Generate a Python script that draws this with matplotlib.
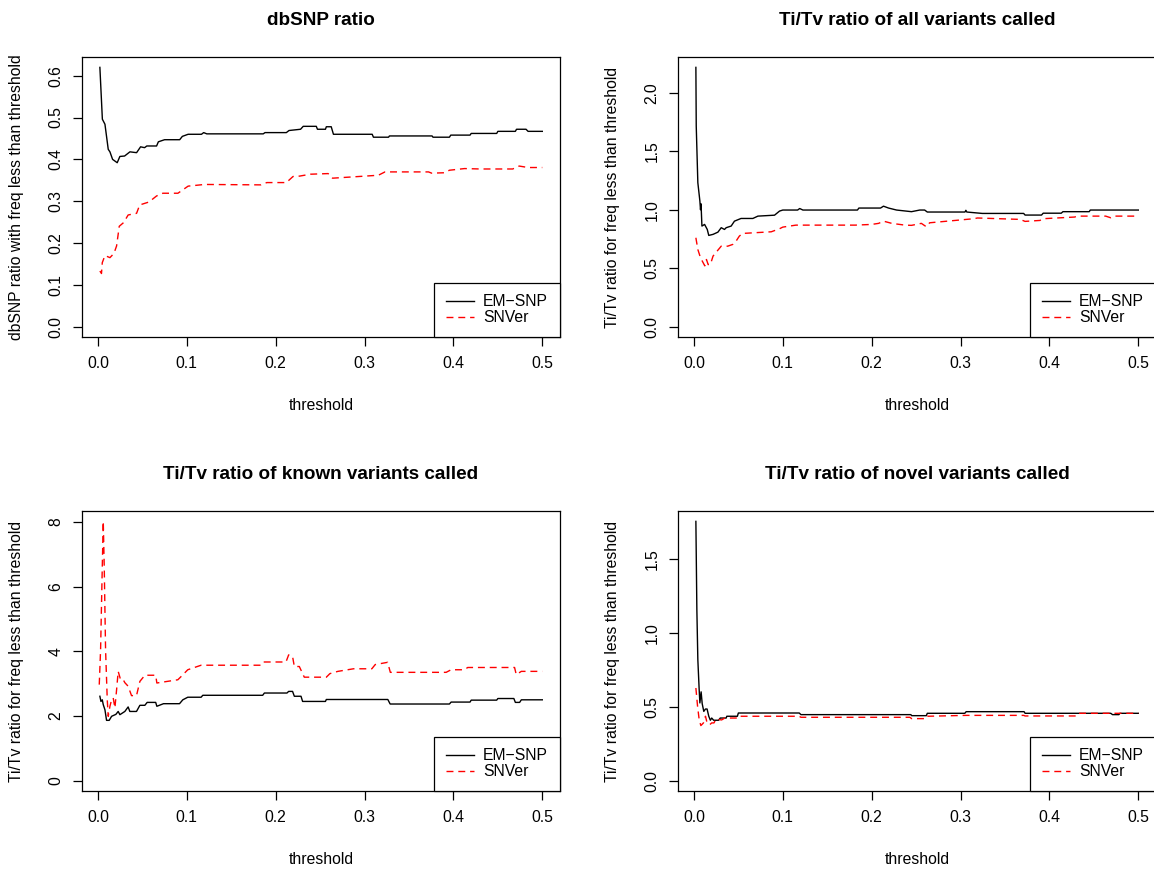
import matplotlib
matplotlib.use("Agg")
import matplotlib.pyplot as plt
import numpy as np

# --- data (threshold vs ratio) ---
dbsnp_em_x = [0.0022, 0.005, 0.0079, 0.0116, 0.0135, 0.0165, 0.0217, 0.0247, 0.030, 0.036,
              0.0435, 0.048, 0.0525, 0.055, 0.066, 0.068, 0.075, 0.092, 0.095, 0.1015,
              0.1165, 0.119, 0.1225, 0.186, 0.188, 0.212, 0.215, 0.228, 0.231, 0.2457,
              0.247, 0.256, 0.257, 0.2625, 0.265, 0.3086, 0.310, 0.327, 0.328, 0.376,
              0.377, 0.3955, 0.397, 0.4187, 0.420, 0.4487, 0.450, 0.4697, 0.471, 0.4817,
              0.484, 0.500]
dbsnp_em_y = [0.62, 0.496, 0.484, 0.424, 0.418, 0.40, 0.392, 0.407, 0.408, 0.418,
              0.416, 0.43, 0.428, 0.432, 0.432, 0.442, 0.447, 0.447, 0.455, 0.46,
              0.46, 0.464, 0.461, 0.461, 0.464, 0.464, 0.469, 0.472, 0.479, 0.479,
              0.472, 0.472, 0.478, 0.478, 0.46, 0.46, 0.453, 0.453, 0.456, 0.456,
              0.453, 0.453, 0.458, 0.458, 0.462, 0.462, 0.467, 0.467, 0.472, 0.472,
              0.467, 0.467]
dbsnp_sn_x = [0.0022, 0.004, 0.0049, 0.0079, 0.0135, 0.018, 0.021, 0.024, 0.029, 0.034,
              0.0435, 0.047, 0.0574, 0.066, 0.073, 0.090, 0.1015, 0.12, 0.1835, 0.19,
              0.212, 0.2195, 0.227, 0.239, 0.259, 0.264, 0.3155, 0.323, 0.372, 0.3755,
              0.390, 0.3955, 0.4125, 0.43, 0.4667, 0.474, 0.484, 0.500]
dbsnp_sn_y = [0.133, 0.127, 0.153, 0.17, 0.165, 0.175, 0.193, 0.24, 0.249, 0.267,
              0.271, 0.291, 0.298, 0.3125, 0.319, 0.319, 0.336, 0.34, 0.339, 0.3445,
              0.3445, 0.359, 0.36, 0.3645, 0.366, 0.355, 0.362, 0.37, 0.37, 0.367,
              0.368, 0.374, 0.378, 0.377, 0.377, 0.384, 0.3805, 0.3805]

all_em_x = [0.0022, 0.0026, 0.0044, 0.0067, 0.0074, 0.0080, 0.009, 0.012, 0.015, 0.0167,
            0.0215, 0.027, 0.0307, 0.0344, 0.0363, 0.0419, 0.0456, 0.053, 0.0663, 0.072,
            0.0907, 0.0963, 0.100, 0.1167, 0.119, 0.1226, 0.184, 0.1856, 0.210, 0.2133,
            0.219, 0.228, 0.2448, 0.2541, 0.2596, 0.2626, 0.305, 0.306, 0.307, 0.3245,
            0.371, 0.3726, 0.3911, 0.393, 0.4133, 0.4152, 0.4448, 0.446, 0.500]
all_em_y = [2.217, 1.716, 1.231, 1.074, 1.0, 1.05, 0.86, 0.874, 0.831, 0.78,
            0.789, 0.808, 0.846, 0.831, 0.846, 0.86, 0.902, 0.925, 0.925, 0.945,
            0.953, 0.988, 0.997, 0.997, 1.01, 0.997, 0.997, 1.014, 1.014, 1.03,
            1.014, 0.997, 0.983, 0.997, 0.997, 0.98, 0.98, 0.995, 0.98, 0.968,
            0.968, 0.954, 0.954, 0.97, 0.97, 0.983, 0.983, 0.997, 0.997]
all_sn_x = [0.0022, 0.0044, 0.0074, 0.0104, 0.0122, 0.0141, 0.016, 0.0185, 0.0215, 0.026,
            0.0307, 0.038, 0.0437, 0.0474, 0.0511, 0.0548, 0.087, 0.0963, 0.100, 0.1148,
            0.1815, 0.200, 0.2078, 0.2133, 0.2226, 0.2374, 0.2448, 0.2559, 0.2615, 0.2652,
            0.3152, 0.319, 0.367, 0.3726, 0.3893, 0.393, 0.4282, 0.4319, 0.4633, 0.4689,
            0.4726, 0.500]
all_sn_y = [0.76, 0.66, 0.589, 0.546, 0.52, 0.574, 0.531, 0.531, 0.603, 0.645,
            0.688, 0.688, 0.703, 0.731, 0.774, 0.797, 0.811, 0.837, 0.851, 0.868,
            0.868, 0.874, 0.883, 0.902, 0.883, 0.868, 0.866, 0.883, 0.854, 0.888,
            0.923, 0.929, 0.917, 0.9, 0.908, 0.923, 0.937, 0.945, 0.945, 0.931,
            0.945, 0.945]

known_em_x = [0.0022, 0.0034, 0.0049, 0.006, 0.0079, 0.0097, 0.0127, 0.0154, 0.0202, 0.0228,
              0.0247, 0.0303, 0.034, 0.0359, 0.0434, 0.0472, 0.0528, 0.0554, 0.065, 0.0663,
              0.0738, 0.0918, 0.0955, 0.1011, 0.1161, 0.118, 0.1854, 0.1873, 0.2127, 0.2146,
              0.219, 0.221, 0.2285, 0.2303, 0.256, 0.257, 0.3262, 0.3288, 0.3955, 0.3974,
              0.4187, 0.42, 0.4487, 0.45, 0.468, 0.4697, 0.4745, 0.4764, 0.500]
known_em_y = [2.61, 2.45, 2.5, 2.35, 2.19, 1.865, 1.865, 1.99, 2.05, 2.14,
              2.04, 2.14, 2.28, 2.14, 2.14, 2.33, 2.33, 2.42, 2.42, 2.3,
              2.38, 2.38, 2.5, 2.58, 2.58, 2.64, 2.64, 2.71, 2.71, 2.76,
              2.76, 2.61, 2.61, 2.45, 2.45, 2.51, 2.51, 2.37, 2.37, 2.43,
              2.43, 2.49, 2.49, 2.54, 2.54, 2.42, 2.42, 2.5, 2.5]
known_sn_x = [0.0015, 0.003, 0.0049, 0.006, 0.0071, 0.0086, 0.0105, 0.0116, 0.0135, 0.0154,
              0.0172, 0.0191, 0.021, 0.0228, 0.0255, 0.0285, 0.0303, 0.034, 0.0378, 0.0434,
              0.0472, 0.0528, 0.065, 0.0663, 0.0899, 0.0936, 0.1011, 0.1161, 0.1835, 0.1862,
              0.2116, 0.2146, 0.219, 0.221, 0.2266, 0.2322, 0.257, 0.261, 0.27, 0.2876,
              0.3082, 0.312, 0.326, 0.329, 0.3918, 0.3974, 0.4124, 0.4161, 0.463, 0.4688,
              0.4707, 0.4764, 0.500]
known_sn_y = [2.97, 4.05, 6.62, 8.02, 6.62, 4.05, 2.5, 1.99, 2.3, 2.5,
              2.56, 2.25, 2.81, 3.38, 3.12, 3.12, 3.03, 2.92, 2.63, 2.63,
              3.07, 3.26, 3.26, 3.02, 3.12, 3.22, 3.43, 3.57, 3.57, 3.67,
              3.67, 3.89, 3.84, 3.53, 3.53, 3.2, 3.2, 3.31, 3.38, 3.46,
              3.46, 3.59, 3.66, 3.35, 3.35, 3.43, 3.43, 3.5, 3.5, 3.5,
              3.28, 3.38, 3.38]

novel_em_x = [0.0022, 0.0033, 0.0044, 0.0059, 0.0067, 0.0081, 0.0093, 0.0111, 0.013, 0.0148,
              0.0167, 0.0185, 0.020, 0.0222, 0.0278, 0.0296, 0.0363, 0.037, 0.0489, 0.050,
              0.1185, 0.1204, 0.2441, 0.245, 0.2615, 0.2626, 0.3048, 0.3063, 0.3715, 0.3726,
              0.469, 0.471, 0.4782, 0.4793, 0.500]
novel_em_y = [1.752, 1.155, 0.818, 0.615, 0.525, 0.6, 0.52, 0.468, 0.484, 0.484,
              0.435, 0.408, 0.423, 0.408, 0.408, 0.423, 0.423, 0.435, 0.435, 0.457,
              0.457, 0.446, 0.446, 0.439, 0.439, 0.455, 0.455, 0.466, 0.466, 0.455,
              0.455, 0.446, 0.446, 0.455, 0.455]
novel_sn_x = [0.0022, 0.0041, 0.0059, 0.0078, 0.0107, 0.013, 0.0148, 0.0178, 0.020, 0.0226,
              0.0248, 0.0311, 0.0348, 0.0489, 0.050, 0.1185, 0.1204, 0.243, 0.245, 0.2615,
              0.2626, 0.3067, 0.3711, 0.3726, 0.430, 0.4319, 0.469, 0.500]
novel_sn_y = [0.626, 0.502, 0.412, 0.372, 0.39, 0.435, 0.39, 0.378, 0.39, 0.39,
              0.417, 0.41, 0.423, 0.423, 0.435, 0.435, 0.428, 0.428, 0.419, 0.419,
              0.435, 0.441, 0.441, 0.437, 0.437, 0.455, 0.455, 0.455]

titles = ["dbSNP ratio", "Ti/Tv ratio of all variants called",
          "Ti/Tv ratio of known variants called", "Ti/Tv ratio of novel variants called"]
ylabels = ["dbSNP ratio with freq less than threshold",
           "Ti/Tv ratio for freq less than threshold",
           "Ti/Tv ratio for freq less than threshold",
           "Ti/Tv ratio for freq less than threshold"]
xticks = [0.0, 0.1, 0.2, 0.3, 0.4, 0.5]
yticks = [[0.0, 0.1, 0.2, 0.3, 0.4, 0.5, 0.6],
          [0.0, 0.5, 1.0, 1.5, 2.0],
          [0, 2, 4, 6, 8],
          [0.0, 0.5, 1.0, 1.5]]
ytick_fmt = ["{:.1f}", "{:.1f}", "{:.0f}", "{:.1f}"]
ymax = [0.62, 2.217, 8.02, 1.752]
series_names = ["EM\u2212SNP", "SNVer"]

W, H = 1154, 869
FS = 11.3


def r_style_axes(fig, box):
    # box in pixel coords: left, top, right, bottom
    l, t, r, b = box
    return fig.add_axes([l / W, 1 - b / H, (r - l) / W, (b - t) / H])


def main():
    plt.rcParams["font.family"] = ["Liberation Sans", "DejaVu Sans"]
    fig = plt.figure(figsize=(W / 100, H / 100), dpi=100)

    boxes = [(82, 57, 560, 337), (678, 57, 1156, 337),
             (82, 511, 560, 791), (678, 511, 1156, 791)]
    data = [(dbsnp_em_x, dbsnp_em_y, dbsnp_sn_x, dbsnp_sn_y),
            (all_em_x, all_em_y, all_sn_x, all_sn_y),
            (known_em_x, known_em_y, known_sn_x, known_sn_y),
            (novel_em_x, novel_em_y, novel_sn_x, novel_sn_y)]

    for i, box in enumerate(boxes):
        ax = r_style_axes(fig, box)
        ex, ey, sx, sy = data[i]
        ax.plot(ex, ey, color="black", lw=1.0, label=series_names[0])
        ax.plot(sx, sy, color="red", lw=1.0, dashes=(5, 3.5), label=series_names[1])

        # R-like 4% axis extension
        ax.set_xlim(-0.04 * 0.498 + 0.002, 0.5 + 0.04 * 0.498)
        ax.set_ylim(-0.04 * ymax[i], ymax[i] * 1.04)
        ax.set_xticks(xticks)
        ax.set_xticklabels([f"{v:.1f}" for v in xticks])
        ax.set_yticks(yticks[i])
        ax.set_yticklabels([ytick_fmt[i].format(v) for v in yticks[i]])
        ax.tick_params(direction="out", length=6.5, width=0.9, labelsize=FS, pad=7)
        ax.tick_params(axis="y", labelrotation=90)
        for lab in ax.get_yticklabels():
            lab.set_va("center")
        for sp in ax.spines.values():
            sp.set_linewidth(0.9)

        ax.set_title(titles[i], fontsize=13.6, fontweight="bold", pad=23)
        ax.set_xlabel("threshold", fontsize=FS)
        ax.xaxis.set_label_coords(0.5, -(405 - 337) / 280)
        ax.xaxis.label.set_va("center")
        ax.set_ylabel(ylabels[i], fontsize=FS)
        ax.yaxis.set_label_coords(-(82 - 17) / 478, 0.5)
        ax.yaxis.label.set_va("center")

        leg = ax.legend(loc="lower right", bbox_to_anchor=(1, 0), borderaxespad=0,
                        fancybox=False, edgecolor="black", framealpha=1, fontsize=FS,
                        handlelength=1.8, handletextpad=0.6, labelspacing=0.05,
                        borderpad=0.75)
        leg.get_frame().set_linewidth(0.9)

    fig.savefig("out.png", dpi=100)
    plt.close(fig)


if __name__ == "__main__":
    main()
